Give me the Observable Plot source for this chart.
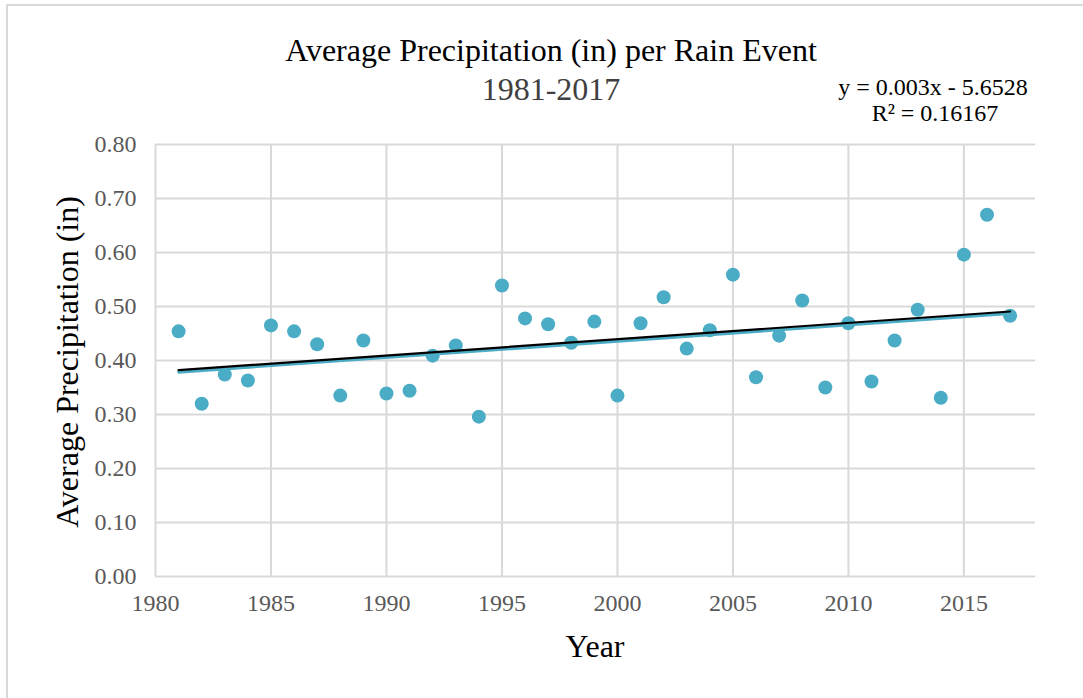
<!DOCTYPE html>
<html><head><meta charset="utf-8">
<script src="https://cdn.jsdelivr.net/npm/d3@7"></script>
<script src="https://cdn.jsdelivr.net/npm/@observablehq/plot@0.6"></script>
<style>
body{margin:0;background:#fff;}
#wrap{position:relative;width:1083px;height:698px;overflow:hidden;font-family:"Liberation Serif","Times New Roman",serif;}
#frame{position:absolute;left:6px;top:4px;width:1100px;height:720px;border:2px solid #d9d9d9;box-sizing:border-box;}
#chart{position:absolute;left:0;top:0;}
#overlay{position:absolute;left:0;top:0;pointer-events:none;}
</style></head><body>
<div id="wrap"><div id="frame"></div><div id="chart"></div><svg id="overlay" width="1083" height="698"></svg></div>
<script>
const years = [1981,1982,1983,1984,1985,1986,1987,1988,1989,1990,1991,1992,1993,1994,1995,1996,1997,1998,1999,2000,2001,2002,2003,2004,2005,2006,2007,2008,2009,2010,2011,2012,2013,2014,2015,2016,2017];
const precip = [0.454,0.320,0.374,0.363,0.465,0.454,0.430,0.335,0.437,0.339,0.344,0.409,0.428,0.296,0.539,0.478,0.467,0.433,0.472,0.335,0.469,0.517,0.422,0.456,0.559,0.369,0.446,0.511,0.350,0.469,0.361,0.437,0.494,0.331,0.596,0.670,0.483];
const xTicks = [1980,1985,1990,1995,2000,2005,2010,2015];
const yTicks = [0,0.1,0.2,0.3,0.4,0.5,0.6,0.7,0.8];
const titleText = "Average Precipitation (in) per Rain Event";
const subtitleText = "1981-2017";
const eqText = "y = 0.003x - 5.6528";
const r2Text = "R² = 0.16167";
const xLabel = "Year";
const yLabel = "Average Precipitation (in)";

const data = years.map((y,i)=>({year:y, value:precip[i]}));

const chart = Plot.plot({
  width:1083, height:698,
  marginLeft:155, marginRight:48, marginTop:144, marginBottom:122,
  style:{fontFamily:"'Liberation Serif','Times New Roman',serif", fontSize:"24px", color:"#595959", background:"transparent"},
  x:{domain:[1980,2018.1], label:null},
  y:{domain:[0,0.8], label:null},
  marks:[
    Plot.gridY(yTicks,{stroke:"#d9d9d9", strokeOpacity:1, strokeWidth:2}),
    Plot.gridX(xTicks,{stroke:"#d9d9d9", strokeOpacity:1, strokeWidth:2}),
    Plot.axisX(xTicks,{tickSize:0, tickPadding:17, tickFormat:d=>String(d), fill:"#595959", label:null}),
    Plot.axisY(yTicks,{tickSize:0, tickPadding:19, tickFormat:d=>d.toFixed(2), fill:"#595959", label:null}),
    Plot.dot(data,{x:"year", y:"value", r:7, fill:"#4bacc6", stroke:"none"}),
    Plot.linearRegressionY(data,{x:"year", y:"value", stroke:"#4bacc6", strokeWidth:3, ci:0, dy:1.5}),
    Plot.linearRegressionY(data,{x:"year", y:"value", stroke:"#000", strokeWidth:2.2, ci:0, dy:-0.5})
  ]
});
document.getElementById("chart").appendChild(chart);

const ov = d3.select("#overlay").style("font-family","'Liberation Serif','Times New Roman',serif");
ov.append("text").attr("x",551).attr("y",61).attr("text-anchor","middle").attr("font-size",32).attr("fill","#000").text(titleText);
ov.append("text").attr("x",551).attr("y",100).attr("text-anchor","middle").attr("font-size",32).attr("fill","#404040").text(subtitleText);
ov.append("text").attr("x",933).attr("y",95).attr("text-anchor","middle").attr("font-size",24).attr("fill","#000").text(eqText);
ov.append("text").attr("x",935).attr("y",121).attr("text-anchor","middle").attr("font-size",24).attr("fill","#000").text(r2Text);
ov.append("text").attr("x",595).attr("y",657).attr("text-anchor","middle").attr("font-size",32).attr("fill","#000").text(xLabel);
ov.append("text").attr("transform","translate(78,362) rotate(-90)").attr("text-anchor","middle").attr("font-size",32).attr("fill","#000").text(yLabel);
</script>
</body></html>
